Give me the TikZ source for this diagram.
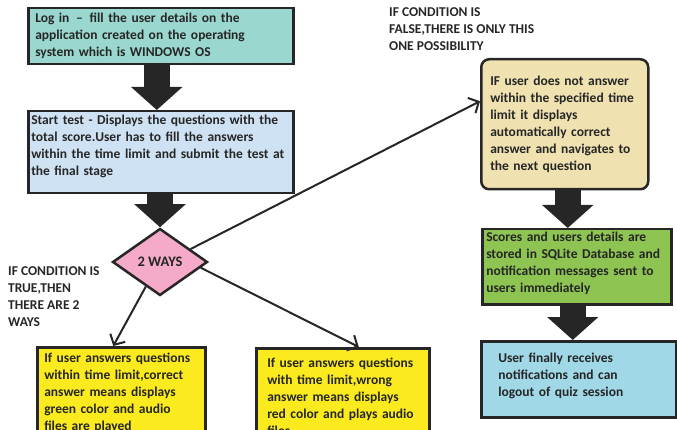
\documentclass[tikz,border=0pt]{standalone}
\usepackage{fontspec}
\setmainfont{Carlito}
\usetikzlibrary{shapes.geometric,arrows.meta,positioning}

\definecolor{ink}{HTML}{262626}
\definecolor{loginfill}{HTML}{9AD8CF}
\definecolor{startfill}{HTML}{CFE2F3}
\definecolor{waysfill}{HTML}{F4AAC8}
\definecolor{answerfill}{HTML}{FBEB1E}
\definecolor{timeoutfill}{HTML}{EFE2B0}
\definecolor{storefill}{HTML}{8DC452}
\definecolor{finishfill}{HTML}{A0D8E7}
\newcommand{\lift}[1]{\rule[-#1]{0pt}{#1}}

\begin{document}
\begin{tikzpicture}[x=1pt,y=-1pt,
	every node/.style={font=\fontsize{13.5}{17}\selectfont\bfseries,text=ink},
	box/.style={draw=ink,line width=2.5pt,align=left,anchor=north west,inner ysep=3pt},
	bigarrow/.style={draw=ink,line width=26pt,-{Triangle[length=23pt,width=50pt]}},
	thin/.style={draw=ink,line width=2pt,-{Straight Barb[length=8pt,width=17pt]}},
	note/.style={align=left,anchor=north west,inner sep=0pt}]
	\clip (0,0) rectangle (677,430);
	\node[box,fill=loginfill,inner xsep=7pt,text width=251pt,minimum height=56pt] (login) at (27,7)
		{Log in \,–\, fill the user details on the\\application created on the operating\\system which is WINDOWS OS};
	\node[box,fill=startfill,inner xsep=3pt,text width=259pt,minimum height=82pt] (start) at (27,110)
		{Start test - Displays the questions with the\\total score.User has to fill the answers\\within the time limit and submit the test at\\the final stage\lift{13pt}};
	\node[diamond,draw=ink,line width=2.5pt,fill=waysfill,inner sep=0pt,minimum width=95pt,minimum height=67pt,font=\fontsize{14.5}{17}\selectfont\bfseries] (ways) at (160,262) {2 WAYS};
	\node[note] (truenote) at (8,266) {IF CONDITION IS\\TRUE,THEN\\THERE ARE 2\\WAYS};
	\node[note] (falsenote) at (389,7) {IF CONDITION IS\\FALSE,THERE IS ONLY THIS\\ONE POSSIBILITY};
	\node[box,fill=answerfill,inner xsep=7pt,text width=154pt,minimum height=92pt] (right) at (36,346)
		{If user answers questions\\within time limit,correct\\answer means displays\\green color and audio\\files are played};
	\node[box,fill=answerfill,inner xsep=11pt,text width=151pt,minimum height=98pt] (wrong) at (255,347)
		{If user answers questions\\with time limit,wrong\\answer means displays\\red color and plays audio\\files};
	\node[box,rounded corners=8pt,fill=timeoutfill,inner xsep=9pt,text width=149pt,minimum height=130pt] (timeout) at (480,58)
		{IF user does not answer\\within the specified time\\limit it displays\\automatically correct\\answer and navigates to\\the next question};
	\node[box,fill=storefill,inner xsep=4pt,text width=181pt,minimum height=75pt] (store) at (481,228)
		{Scores and users details are\\stored in SQLite Database and\\notification messages sent to\\users immediately\lift{9pt}};
	\node[box,fill=finishfill,inner xsep=17pt,text width=161pt,minimum height=76pt] (finish) at (480,340)
		{User finally receives\\notifications and can\\logout of quiz session\lift{9pt}};

	\draw[bigarrow] ([xshift=-4pt]login.south) -- ([xshift=-4pt]login.south |- start.north);
	\draw[bigarrow] (start.south -| ways.north) -- (ways.north);
	\draw[bigarrow] ([xshift=3pt]timeout.south) -- ([xshift=3pt]timeout.south |- store.north);
	\draw[bigarrow] ([xshift=-4pt]store.south) -- ([xshift=-4pt]store.south |- finish.north);

	\draw[thin] (ways.240) -- ([xshift=-8pt]right.north);
	\draw[thin] (ways.352) -- ([xshift=16pt]wrong.north);
	\draw[thin] (ways.23) -- ([yshift=23pt]timeout.west);
\end{tikzpicture}
\end{document}
